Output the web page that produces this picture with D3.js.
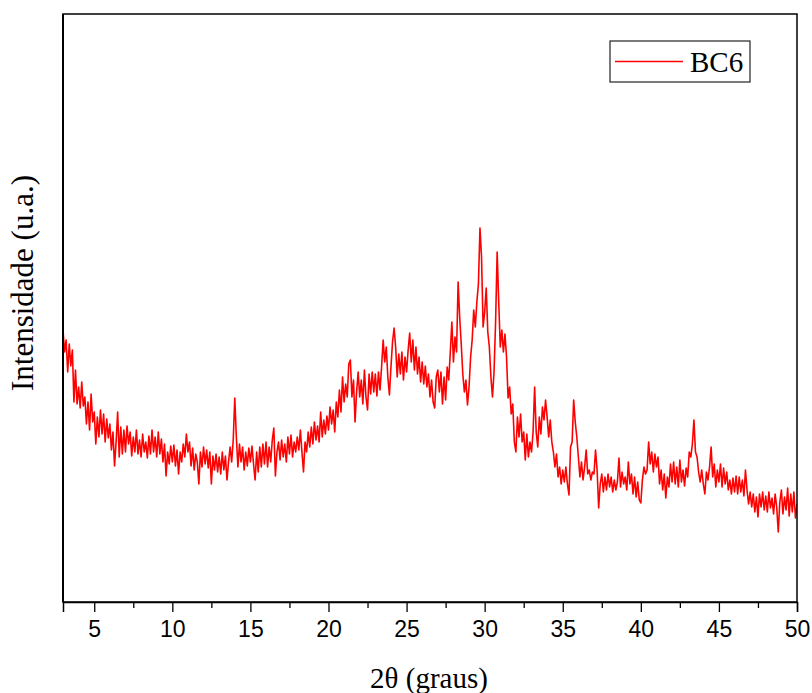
<!DOCTYPE html>
<html>
<head>
<meta charset="utf-8">
<script src="https://cdn.jsdelivr.net/npm/d3@7"></script>
<style>
  body { margin: 0; background: #fff; }
  svg { display: block; }
</style>
</head>
<body>
<div id="chart"></div>
<script>
// XRD pattern BC6, 2theta from 3 to 50 deg, step 0.1 deg (intensity in arbitrary units)
const startAngle = 3;
const stepAngle = 0.1;

const intensity3to10 = [
  272, 250, 262, 230, 258, 236, 252, 200, 232, 198,
  215, 194, 220, 196, 205, 178, 200, 172, 208, 180,
  190, 158, 185, 165, 192, 168, 188, 160, 183, 164,
  178, 152, 170, 136, 160, 190, 145, 175, 148, 172,
  150, 176, 158, 170, 146, 165, 150, 172, 148, 162,
  145, 168, 150, 160, 144, 166, 148, 172, 150, 165,
  145, 170, 148, 163, 140, 158, 126, 150, 138, 156
];
const intensity10to20 = [
  140, 157, 136, 152, 128, 150, 140, 158, 145, 168,
  150, 160, 136, 154, 132, 148, 140, 118, 150, 135,
  155, 138, 152, 134, 150, 118, 146, 132, 148, 130,
  145, 128, 150, 132, 146, 122, 140, 155, 140, 162,
  204, 165, 135, 158, 140, 155, 132, 150, 136, 154,
  140, 156, 138, 122, 150, 130, 155, 135, 158, 138,
  160, 135, 155, 140, 162, 174, 126, 150, 160, 142,
  162, 145, 158, 140, 165, 148, 167, 145, 160, 150,
  165, 152, 172, 150, 130, 160, 150, 170, 155, 175,
  158, 180, 162, 176, 160, 190, 165, 182, 168, 186
];
const intensity20to30 = [
  172, 195, 178, 192, 170, 200, 185, 212, 190, 225,
  200, 218, 205, 238, 242, 205, 222, 180, 210, 230,
  205, 222, 198, 232, 205, 192, 228, 208, 230, 210,
  228, 206, 230, 212, 235, 262, 240, 255, 225, 207,
  235, 260, 274, 255, 225, 248, 228, 250, 222, 245,
  230, 252, 269, 240, 262, 232, 255, 228, 245, 220,
  240, 218, 236, 215, 228, 205, 222, 200, 194, 225,
  232, 210, 230, 198, 225, 202, 235, 222, 250, 280,
  240, 265, 250, 320, 285, 258, 228, 210, 222, 197,
  215, 245, 262, 292, 275, 300, 318, 374, 345, 275
];
const intensity30to40 = [
  290, 314, 270, 255, 225, 205, 230, 280, 350, 300,
  255, 272, 250, 268, 245, 204, 215, 188, 198, 160,
  150, 185, 165, 188, 160, 170, 142, 168, 145, 160,
  150, 170, 215, 170, 155, 185, 168, 195, 182, 202,
  185, 165, 182, 160, 150, 135, 148, 125, 135, 118,
  132, 120, 135, 118, 107, 155, 160, 202, 180, 165,
  145, 125, 140, 122, 135, 152, 128, 132, 122, 130,
  128, 152, 132, 94, 118, 128, 110, 125, 112, 128,
  115, 125, 110, 122, 112, 120, 144, 115, 130, 118,
  125, 112, 140, 118, 128, 108, 125, 105, 120, 102
];
const intensity40to50 = [
  99, 122, 135, 128, 132, 160, 138, 150, 130, 148,
  135, 145, 118, 132, 112, 128, 104, 125, 115, 138,
  120, 140, 118, 135, 115, 142, 120, 132, 116, 134,
  125, 150, 145, 158, 182, 150, 145, 130, 120, 132,
  118, 108, 130, 122, 135, 155, 125, 138, 115, 132,
  120, 138, 115, 134, 118, 130, 112, 122, 108, 124,
  110, 126, 108, 125, 110, 122, 106, 132, 112, 98,
  110, 95, 108, 90, 105, 85, 108, 95, 110, 92,
  106, 90, 110, 94, 104, 88, 108, 95, 70, 100,
  112, 88, 105, 92, 114, 86, 108, 90, 110, 84,
  98
];

const xTicks = [5, 10, 15, 20, 25, 30, 35, 40, 45, 50];
const xMinorTicks = [7.5, 12.5, 17.5, 22.5, 27.5, 32.5, 37.5, 42.5, 47.5];
const seriesName = "BC6";

const intensity = [].concat(intensity3to10, intensity10to20, intensity20to30, intensity30to40, intensity40to50);
const data = intensity.map((v, i) => ({ x: +(startAngle + i * stepAngle).toFixed(2), y: v }));

const margin = { top: 14, right: 15, bottom: 91, left: 63 };
const width = 812 - margin.left - margin.right;
const height = 693 - margin.top - margin.bottom;

const svg = d3.select("#chart").append("svg")
    .attr("width", 812)
    .attr("height", 693);

const g = svg.append("g").attr("transform", `translate(${margin.left},${margin.top})`);

const xScale = d3.scaleLinear().domain([3, 50]).range([0, width]);
const yScale = d3.scaleLinear().domain([0, 588]).range([height, 0]);

g.append("clipPath").attr("id", "plot-clip")
    .append("rect").attr("width", width).attr("height", height);

// data line
const line = d3.line().x(d => xScale(d.x)).y(d => yScale(d.y));
g.append("path")
    .datum(data)
    .attr("clip-path", "url(#plot-clip)")
    .attr("fill", "none")
    .attr("stroke", "#ff0000")
    .attr("stroke-width", 1.6)
    .attr("stroke-linejoin", "round")
    .attr("d", line);

// frame
g.append("rect")
    .attr("width", width)
    .attr("height", height)
    .attr("fill", "none")
    .attr("stroke", "#000")
    .attr("stroke-width", 1.5);

// bottom axis, major ticks with labels
const xAxis = g.append("g")
    .attr("transform", `translate(0,${height})`)
    .call(d3.axisBottom(xScale).tickValues(xTicks).tickSize(10).tickPadding(9).tickFormat(d3.format("d")));
xAxis.select(".domain").attr("stroke-width", 1.5);
xAxis.selectAll(".tick line").attr("stroke-width", 1.3);
xAxis.selectAll(".tick text")
    .style("font-family", "'Liberation Sans', Arial, sans-serif")
    .style("font-size", "23px")
    .attr("fill", "#000");

// minor ticks
g.append("g")
    .attr("transform", `translate(0,${height})`)
    .call(d3.axisBottom(xScale).tickValues(xMinorTicks).tickSize(6).tickFormat(""))
    .call(s => s.select(".domain").remove())
    .selectAll(".tick line").attr("stroke-width", 1.3);

// left axis line a bit heavier
g.append("line")
    .attr("x1", 0).attr("x2", 0)
    .attr("y1", 0).attr("y2", height)
    .attr("stroke", "#000")
    .attr("stroke-width", 2);

// axis titles
svg.append("text")
    .attr("x", margin.left + width / 2 - 1)
    .attr("y", 688)
    .attr("text-anchor", "middle")
    .style("font-family", "'Liberation Serif', 'Times New Roman', serif")
    .style("font-size", "29px")
    .text("2θ (graus)");

svg.append("text")
    .attr("transform", `translate(33,${283}) rotate(-90)`)
    .attr("text-anchor", "middle")
    .style("font-family", "'Liberation Serif', 'Times New Roman', serif")
    .style("font-size", "31px")
    .text("Intensidade (u.a.)");

// legend
const legend = svg.append("g").attr("transform", "translate(610,41)");
legend.append("rect")
    .attr("width", 140)
    .attr("height", 41)
    .attr("fill", "#fff")
    .attr("stroke", "#222")
    .attr("stroke-width", 1.2);
legend.append("line")
    .attr("x1", 5).attr("x2", 73)
    .attr("y1", 20.5).attr("y2", 20.5)
    .attr("stroke", "#ff0000")
    .attr("stroke-width", 1.6);
legend.append("text")
    .attr("x", 80)
    .attr("y", 31)
    .style("font-family", "'Liberation Serif', 'Times New Roman', serif")
    .style("font-size", "29px")
    .text(seriesName);
</script>
</body>
</html>
